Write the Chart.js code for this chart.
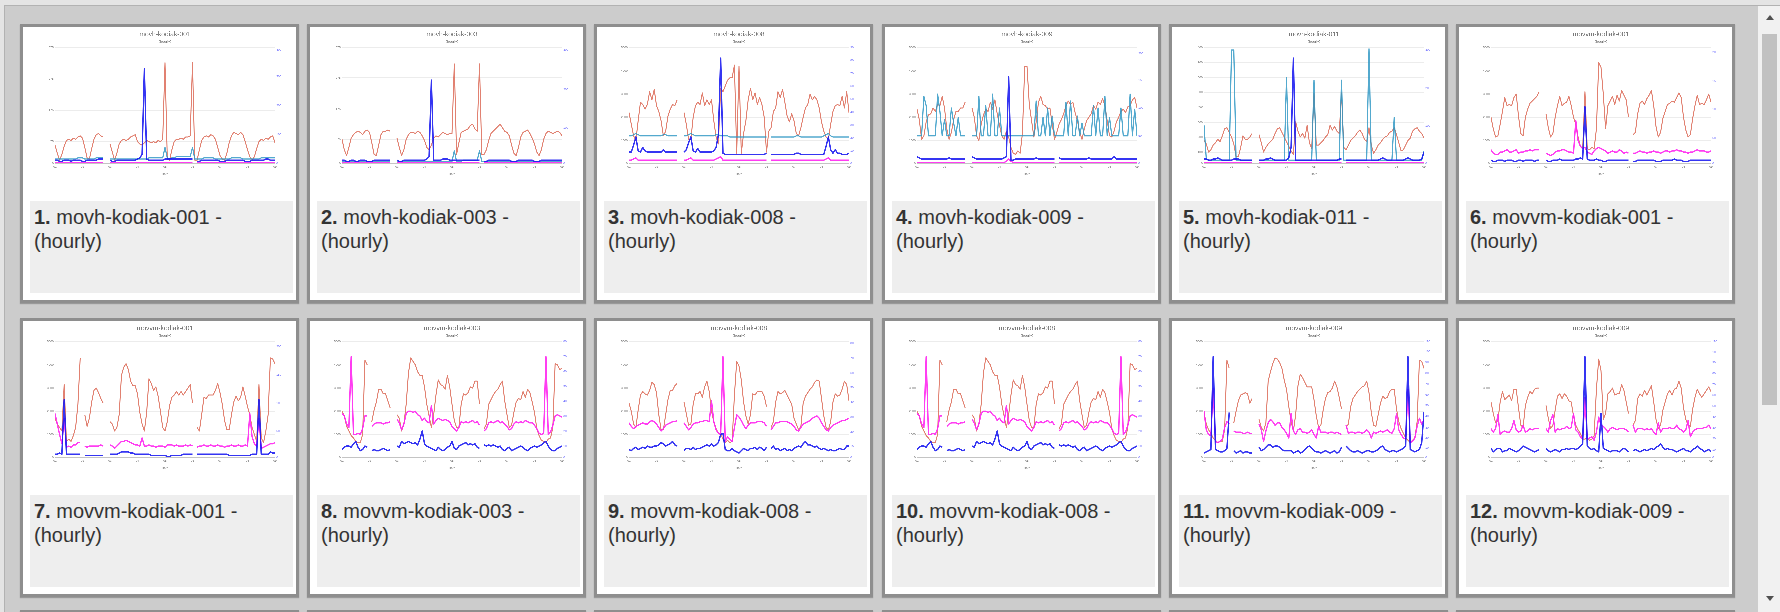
<!DOCTYPE html>
<html><head><meta charset="utf-8">
<script src="https://cdn.jsdelivr.net/npm/chart.js@4.4.1/dist/chart.umd.min.js"></script>
<style>
html,body{margin:0;padding:0;width:1780px;height:612px;overflow:hidden;background:#e4e4e4;font-family:"Liberation Sans",Arial,sans-serif;}
#frame{position:absolute;left:4px;top:5px;width:1776px;height:607px;background:#cccccc;border-left:1px solid #b2b2b2;border-top:1px solid #b2b2b2;box-sizing:border-box;}
.card{position:absolute;width:279px;height:279px;box-sizing:border-box;border:3px solid #8e8e8e;background:#fff;box-shadow:0 1px 1px rgba(0,0,0,.25);}
.card canvas{position:absolute;left:4px;top:0px;}
.cap{position:absolute;left:7px;top:174px;width:263px;height:92px;background:#eeeeee;box-sizing:border-box;padding:4px 0 0 4px;font-size:20px;line-height:24px;color:#333;white-space:nowrap;}
.cap b{font-weight:bold;}
#sb{position:absolute;left:1758px;top:6px;width:22px;height:606px;background:#f1f1f1;}
#thumb{position:absolute;left:1762px;top:34px;width:15px;height:371px;background:#c1c1c1;}
.arr{position:absolute;left:1766px;width:0;height:0;border-left:4px solid transparent;border-right:4px solid transparent;}
#up{top:15px;border-bottom:5px solid #505050;}
#dn{top:596px;border-top:5px solid #505050;}
</style></head><body>
<div id="frame"></div>
<div id="sb"></div><div id="thumb"></div><div id="up" class="arr"></div><div id="dn" class="arr"></div>
<script>
const _ = null;
const STEP_HOURS = 2;
const DAY_TICKS = [0,24,48,72,96,120,144,168,192];
const DAY_LABELS = ['01','02','03','04','05','06','07','08','09'];

// ---- 1. movh-kodiak-001 ----
const c1Red = [
16,9,3,8,15,20,21,20,22,21,23,24,
22,14,5,4,13,21,25,26,24,23,_,_,
17,10,3,9,17,20,21,20,21,23,24,25,
19,17,16,18,20,19,18,19,18,20,19,21,
87,4,3,12,19,21,21,22,21,23,23,24,
87,3,3,12,20,23,24,23,25,24,21,14,
7,4,3,9,18,24,27,26,25,27,25,19,
12,6,3,6,13,19,21,20,22,21,23,24,
18];
const c1Blue = [
3,3,2,2,3,3,3,2,3,3,3,3,
2,2,3,3,3,3,3,4,4,4,_,_,
3,2,2,3,3,3,3,3,3,3,3,3,
4,5,8,82,4,3,3,3,3,3,3,3,
4,4,4,4,4,4,4,4,4,4,4,4,
4,_,2,2,3,3,3,3,3,3,3,3,
2,2,2,3,3,3,3,3,3,3,3,2,
2,2,3,3,3,3,3,3,4,4,3,3,
3];
const c1Cyan = [
4,4,4,4,4,4,4,4,4,4,5,5,
5,4,4,4,4,4,5,5,5,5,_,_,
4,4,4,4,4,4,4,4,4,4,4,4,
4,4,4,4,4,5,5,5,5,5,5,5,
14,5,4,5,5,6,6,6,6,6,6,6,
14,4,4,4,4,5,5,5,5,5,4,4,
4,4,4,4,4,5,5,5,5,5,4,4,
4,4,4,4,4,4,5,5,5,5,5,5,
5];
const c1Mag = [
1,1,1,1,1,1,1,1,1,1,1,1,
1,1,1,1,1,1,1,1,1,1,_,_,
1,1,1,1,1,1,1,1,1,1,1,1,
1,1,1,1,1,1,1,1,1,1,1,1,
1,1,1,1,1,1,1,1,1,1,1,1,
1,_,1,1,1,1,1,1,1,1,1,1,
1,1,1,1,1,1,1,1,1,1,1,1,
1,1,1,1,1,1,1,1,1,1,1,1,
1];
const c1LeftTicks = [0,19,46,73,100], c1LeftLabels = ['0','75','175','275','375'];
const c1RightTicks = [0,25,50,75,98], c1RightLabels = ['0','100','200','300','400'];

// ---- 2. movh-kodiak-003 ----
const c2Red = [
21,12,7,14,22,25,27,28,27,25,28,29,
27,18,8,7,16,25,28,28,29,28,_,_,
22,14,7,12,21,25,27,27,26,28,27,24,
20,14,12,16,22,24,23,25,27,26,25,26,
26,86,8,18,27,28,29,30,33,34,30,28,
86,8,8,12,20,26,28,30,32,34,31,28,
27,24,16,9,7,14,23,27,28,29,26,22,
17,10,7,12,21,26,28,27,26,27,28,27,
24];
const c2Blue = [
3,3,2,2,3,3,2,2,3,3,3,2,
2,2,3,3,3,3,3,3,3,3,_,_,
3,2,2,3,3,3,3,3,3,3,3,3,
3,4,6,72,3,3,3,3,4,4,4,3,
3,3,3,3,3,3,3,3,3,3,3,3,
3,_,2,2,3,3,3,3,3,3,3,3,
3,3,2,2,2,3,3,3,3,3,3,3,
2,2,2,3,3,3,3,3,3,3,3,3,
3];
const c2Cyan = [
2,2,2,2,2,2,2,2,2,2,2,2,
2,2,2,2,2,2,2,2,2,2,_,_,
2,2,2,2,2,2,2,2,2,2,2,2,
2,2,2,2,2,2,2,2,2,2,2,2,
2,11,2,2,2,3,3,3,3,3,3,3,
11,2,2,2,2,2,2,2,2,2,2,2,
2,2,2,2,2,2,2,2,2,2,2,2,
2,2,2,2,2,2,2,2,2,2,2,2,
2];
const c2Mag = c1Mag.map(v => v);
const c2LeftTicks = [0,21,47,74,100], c2LeftLabels = ['0','75','175','275','375'];
const c2RightTicks = [0,31,64,98], c2RightLabels = ['0','100','200','300'];

// ---- 3. movh-kodiak-008 ----
const c3Red = [
44,34,24,20,37,53,51,47,51,62,55,64,
50,45,37,24,28,41,47,51,50,55,_,_,
44,34,21,21,40,50,53,51,61,50,55,51,
55,37,23,17,65,62,67,72,74,74,85,9,
84,9,26,37,55,65,55,61,51,57,51,40,
10,28,31,45,48,62,57,64,53,41,36,43,
37,26,24,31,40,48,51,60,55,58,55,48,
36,28,23,21,34,45,50,51,50,58,48,62,
44];
const c3Cyan = [
24,24,25,26,25,24,24,24,24,24,24,24,
24,24,24,25,25,24,24,24,24,24,_,_,
24,24,25,26,25,24,24,24,24,24,24,24,
24,24,25,25,24,24,24,24,23,23,23,23,
23,23,23,23,23,23,23,23,23,23,23,23,
23,_,23,23,23,23,23,23,23,23,23,23,
23,24,24,23,23,23,23,23,23,23,23,23,
23,24,25,26,24,23,23,23,23,23,23,23,
23];
const c3Blue = [
10,10,16,23,11,10,14,11,10,10,10,10,
10,10,10,12,10,10,10,10,10,10,_,_,
10,12,18,23,11,10,13,10,10,10,10,10,
10,11,14,25,91,9,8,8,8,8,8,8,
8,8,8,8,8,8,8,8,8,8,8,8,
9,_,8,8,8,8,8,8,8,8,8,8,
8,9,9,8,8,8,8,8,8,8,8,8,
8,8,15,23,12,9,12,9,9,8,8,8,
9];
const c3Mag = [
3,3,4,5,3,3,3,3,3,3,3,3,
3,3,3,3,3,3,3,3,3,3,_,_,
3,3,4,5,3,3,3,3,3,3,3,3,
3,3,4,5,6,3,3,3,3,3,3,3,
3,3,3,3,3,3,3,3,3,3,3,3,
3,_,3,3,3,3,3,3,3,3,3,3,
3,3,3,3,3,3,3,3,3,3,3,3,
3,3,4,5,3,3,3,3,3,3,3,3,
3];
const c3LeftTicks = [0,20,40,60,80,100], c3LeftLabels = ['0','1000','2000','3000','4000','5000'];
const c3RightTicks = [0,11.1,22.2,33.3,44.4,55.6,66.7,77.8,88.9,100], c3RightLabels = ['0','10','20','30','40','50','60','70','80','90'];

// ---- 4. movh-kodiak-009 ----
const c4Red = [
47,38,21,24,36,42,43,48,45,51,50,58,
48,30,21,27,38,45,45,48,48,53,_,_,
48,40,24,20,34,42,47,45,53,47,55,43,
33,24,21,28,23,14,9,8,11,9,26,84,
84,51,37,23,36,53,58,51,50,47,48,34,
21,27,34,38,43,50,54,51,53,44,37,27,
21,30,37,40,43,50,47,53,51,56,50,37,
24,23,28,36,40,45,47,44,49,50,55,57,
48];
const c4Cyan = [
24,24,24,58,50,24,24,24,24,60,45,24,
38,24,24,48,35,24,40,24,24,24,_,_,
24,24,24,58,24,24,50,24,24,60,24,24,
48,24,24,24,24,24,24,24,24,24,24,24,
24,24,24,24,54,24,24,40,24,48,24,41,
24,24,24,24,24,53,24,54,24,24,41,24,
35,24,24,24,24,50,24,48,24,24,58,24,
40,24,24,24,24,48,24,24,24,60,24,47,
24];
const c4Blue = [
6,5,4,4,4,4,4,4,4,4,4,4,
4,4,5,4,4,4,4,4,4,4,_,_,
6,5,4,4,4,4,4,4,4,4,4,4,
4,4,5,6,75,3,3,4,4,4,4,4,
4,4,4,4,5,4,4,4,4,4,4,4,
4,_,5,4,4,4,4,4,4,4,4,4,
4,4,4,5,4,4,4,4,4,4,4,4,
4,4,6,4,4,4,4,4,4,4,4,4,
4];
const c4Mag = [
1,1,1,1,1,1,1,1,1,1,1,1,
1,1,1,1,1,1,1,1,1,1,_,_,
1,1,1,1,1,1,1,1,1,1,1,1,
1,1,1,2,4,2,1,1,1,1,1,1,
1,1,1,1,1,1,1,1,1,1,1,1,
1,_,1,1,1,1,1,1,1,1,1,1,
1,1,1,1,1,1,1,1,1,1,1,1,
1,1,1,1,1,1,1,1,1,1,1,1,
1];
const c4LeftTicks = [0,20,40,60,80,100], c4LeftLabels = ['0','1000','2000','3000','4000','5000'];
const c4RightTicks = [0,24,48,72,95], c4RightLabels = ['0','50','100','150','200'];

// ---- 5. movh-kodiak-011 ----
const c5Red = [
20,17,10,12,16,18,21,19,24,30,31,27,
23,17,6,6,14,24,21,21,23,26,_,_,
25,18,10,14,17,19,21,26,30,31,27,23,
19,15,11,8,36,28,23,26,22,33,18,13,
61,16,16,18,20,23,25,33,29,32,28,26,
61,14,12,16,20,22,24,27,29,26,21,19,
31,16,9,12,16,18,21,23,24,27,28,31,
25,18,11,12,16,20,22,28,30,31,28,26,
22];
const c5Cyan = [
33,4,3,3,3,3,3,3,3,3,3,3,
98,98,3,3,3,3,3,3,3,3,_,_,
3,3,3,3,3,3,3,3,3,3,3,3,
74,3,3,3,3,3,3,3,3,3,3,3,
72,3,3,3,3,3,3,3,3,3,3,3,
72,3,3,3,3,3,3,3,3,3,3,3,
99,3,3,3,3,3,3,3,3,3,3,40,
3,3,3,3,3,3,3,3,3,3,3,3,
11];
const c5Blue = [
4,4,3,3,4,4,5,4,3,3,3,3,
3,4,4,4,3,3,3,3,3,3,_,_,
3,3,3,4,4,5,4,3,3,3,3,3,
3,5,14,91,3,3,3,3,3,3,3,3,
3,3,3,3,3,3,3,3,3,3,3,4,
4,_,3,3,3,3,3,3,3,3,3,3,
3,3,3,3,3,4,5,4,3,3,3,3,
3,3,3,3,4,5,4,3,3,3,3,4,
10];
const c5Mag = c1Mag.map(v => v);
const c5LeftTicks = [0,9.9,22.7,35.5,48.9,61.6,74.4,87.2,100], c5LeftLabels = ['0','100','200','300','400','500','600','700','800'];
const c5RightTicks = [0,32.7,65,98], c5RightLabels = ['0','100','200','300'];

// ---- 6. movvm-kodiak-001 ----
const c6Red = [
40,30,23,24,34,45,57,50,51,50,57,60,
41,26,24,40,47,52,54,56,58,62,_,_,
43,31,23,26,40,50,58,50,52,53,58,50,
40,34,23,15,13,62,13,12,14,13,30,87,
83,60,30,50,54,58,51,59,54,63,59,55,
40,_,25,27,43,52,54,51,56,59,63,50,
32,23,27,39,45,51,52,54,53,57,61,57,
40,29,23,25,39,50,59,51,52,51,55,60,
53];
const c6Mag = [
12,9,8,8,10,10,11,12,10,10,11,12,
9,10,10,11,11,12,11,12,12,12,_,_,
9,8,7,8,10,11,11,12,12,11,10,10,
9,37,20,15,13,14,10,9,8,11,13,14,
13,12,11,9,10,11,10,10,12,11,9,10,
9,_,9,9,10,11,10,10,9,10,10,11,
10,10,9,10,11,11,10,11,11,12,11,11,
10,10,9,10,10,11,12,11,11,11,10,10,
11];
const c6Blue = [
3,2,2,3,3,3,2,3,3,3,2,2,
3,3,2,3,3,3,3,2,3,3,_,_,
3,2,2,3,3,3,4,3,3,3,3,3,
3,4,4,5,4,49,4,3,3,3,4,3,
3,2,2,3,3,3,3,3,3,3,3,3,
3,_,2,2,3,3,3,3,3,3,3,3,
2,2,2,3,3,3,3,3,4,3,3,3,
2,2,2,3,3,3,3,3,3,3,3,3,
3];
const c6LeftTicks = [0,20,40,60,80,100], c6LeftLabels = ['0','1000','2000','3000','4000','5000'];
const c6RightTicks = [0,22,47,71,96], c6RightLabels = ['0','50','100','150','200'];

// ---- 7. movvm-kodiak-001 ----
const c7Red = [
34,29,26,23,63,14,16,14,19,26,46,86,
_,37,27,34,48,58,60,56,51,47,_,_,
31,29,23,26,37,71,78,81,76,66,62,62,
55,39,29,23,39,68,64,58,61,53,40,26,
23,31,45,52,54,57,54,57,54,57,60,63,
47,_,26,23,37,52,51,54,54,54,58,64,
56,46,32,24,24,37,48,53,49,52,61,53,
44,37,26,20,14,63,17,13,23,37,86,85,
81];
const c7Mag = [
38,29,20,12,34,9,10,9,11,11,13,13,
_,10,9,10,10,10,10,10,11,10,_,_,
11,10,8,10,12,14,14,15,14,13,12,11,
11,10,17,10,10,11,10,10,9,10,10,10,
9,11,11,11,10,11,10,10,10,11,10,11,
10,_,9,10,10,11,10,10,11,10,10,11,
10,10,9,10,10,11,10,10,11,10,10,11,
10,38,18,12,10,34,8,9,10,11,12,12,
13];
const c7Blue = [
3,3,4,3,50,3,3,3,3,3,3,3,
_,2,2,2,2,2,2,2,2,2,_,_,
3,3,3,3,4,5,5,5,5,4,4,3,
3,3,3,3,3,3,2,2,2,2,2,2,
2,1,1,2,2,2,2,2,3,3,3,3,
3,_,3,3,3,3,3,3,3,3,3,3,
3,3,3,3,2,2,2,2,2,2,2,2,
2,2,3,3,3,50,3,3,3,3,5,4,
4];
const c7LeftTicks = [0,20,40,60,80,100], c7LeftLabels = ['0','1000','2000','3000','4000','5000'];
const c7RightTicks = [0,22.9,47.1,71.4,95.7], c7RightLabels = ['0','50','100','150','200'];

// ---- 8. movvm-kodiak-003 (also drawn in card 10) ----
const c8Red = [
40,36,27,23,19,17,14,13,13,20,84,80,
_,31,41,48,59,59,55,55,49,43,_,_,
37,34,23,29,46,73,86,83,80,74,71,71,
61,46,36,26,37,54,67,63,62,59,71,61,
46,32,26,26,46,55,54,56,61,60,66,66,
46,_,25,29,46,50,54,57,59,63,66,49,
37,26,28,39,48,51,50,57,52,59,56,48,
39,25,19,15,14,13,16,17,26,81,80,76,
77];
const c8Mag = [
38,36,29,26,87,20,20,21,20,25,36,36,
_,27,29,30,30,30,29,30,30,31,_,_,
33,30,24,29,38,40,40,39,40,37,36,32,
34,31,30,45,29,32,34,33,32,33,32,31,
27,25,23,26,31,30,31,30,31,32,30,31,
28,_,23,25,30,31,30,31,32,30,31,29,
27,24,25,29,31,30,31,30,32,31,30,30,
28,25,21,20,21,87,20,22,28,36,37,36,
35];
const c8Blue = [
7,9,10,10,9,12,14,9,6,7,10,9,
_,6,7,6,6,7,8,7,6,7,_,_,
10,9,14,12,13,14,13,12,13,11,16,23,
12,10,9,8,7,6,9,7,6,7,9,10,
14,8,7,10,11,12,13,11,12,11,12,9,
8,_,11,10,11,10,11,10,9,10,7,6,
8,9,6,7,8,9,10,9,7,6,8,9,
10,9,10,11,13,14,10,7,6,6,8,9,
10];
const c8LeftTicks = [0,20,40,60,80,100], c8LeftLabels = ['0','1000','2000','3000','4000','5000'];
const c8RightTicks = [0,10,22.9,35.7,48.6,61.4,74.3,87.1,100], c8RightLabels = ['0','10','20','30','40','50','60','70','80'];

// ---- 9. movvm-kodiak-008 ----
const c9Red = [
47,40,29,26,41,54,57,55,54,58,65,63,
56,37,24,24,37,50,58,58,62,64,_,_,
48,38,28,29,46,55,55,57,52,61,66,57,
40,31,25,21,21,16,13,15,13,14,54,83,
79,67,48,36,29,37,55,54,57,57,57,53,
44,_,26,31,48,57,55,56,58,54,50,46,
34,29,24,27,47,53,56,59,61,65,67,66,
51,36,26,24,31,48,55,53,54,59,66,63,
49];
const c9Mag = [
30,27,25,27,28,29,30,29,29,31,32,31,
29,26,23,25,28,29,30,31,31,32,_,_,
30,27,24,26,29,30,30,31,31,32,32,31,
49,31,24,21,20,87,14,18,16,14,26,37,
35,32,28,25,28,30,30,30,31,31,31,30,
27,_,24,27,30,30,31,31,31,31,30,29,
27,24,23,26,29,30,31,32,34,35,36,34,
30,27,24,23,26,28,29,30,31,32,32,33,
34];
const c9Blue = [
7,6,8,9,7,8,9,8,10,9,9,10,
10,11,13,12,10,11,12,14,11,10,_,_,
6,8,8,7,9,7,8,8,9,10,11,10,
12,10,11,13,20,21,7,6,6,8,6,5,
4,6,8,7,6,8,8,9,7,9,8,6,
9,_,8,10,7,8,6,7,8,6,7,6,
8,9,10,9,12,14,11,11,10,9,10,8,
7,8,7,6,7,6,6,7,8,7,7,10,
10];
const c9LeftTicks = [0,20,40,60,80,100], c9LeftLabels = ['0','1000','2000','3000','4000','5000'];
const c9RightTicks = [0,9.7,22.3,34.9,48,60.6,72.9,85.7,98.6], c9RightLabels = ['0','10','20','30','40','50','60','70','80'];

// ---- 11. movvm-kodiak-009 ----
const c11Red = [
39,29,24,21,17,15,13,14,14,24,84,77,
_,30,40,49,54,55,56,55,47,51,_,_,
33,26,23,30,66,74,81,86,85,82,77,67,
59,44,31,23,37,62,72,69,65,61,61,61,
50,36,26,28,41,51,56,57,60,66,61,52,
42,_,26,29,44,51,54,57,59,61,62,66,
56,39,28,27,37,47,53,51,52,57,59,59,
42,31,25,21,17,15,13,15,17,31,84,83,
77];
const c11Mag = [
40,24,20,19,60,14,13,14,16,26,31,29,
_,23,22,22,22,21,21,22,21,21,_,_,
29,24,14,23,30,33,31,28,30,30,26,24,
21,17,38,23,20,24,25,22,22,21,22,24,
20,17,27,22,22,22,21,22,22,21,22,21,
20,_,28,21,22,22,21,22,22,21,22,24,
22,17,22,21,22,23,22,23,24,22,21,25,
38,24,20,17,16,59,13,14,17,27,34,29,
33];
const c11Blue = [
4,5,6,7,87,7,6,5,5,6,8,39,
_,6,4,5,6,4,5,5,4,4,_,_,
9,6,7,9,11,11,9,10,10,9,7,6,
6,6,6,4,5,6,4,5,7,9,10,8,
6,5,5,4,5,6,5,4,5,6,4,5,
9,_,10,8,6,5,5,6,5,4,5,6,
6,5,5,6,7,9,10,7,6,5,6,6,
5,6,7,8,10,87,7,6,5,6,7,13,
39];
const c11LeftTicks = [0,20,40,60,80,100], c11LeftLabels = ['0','1000','2000','3000','4000','5000'];
const c11RightTicks = [0,8.6,17.1,25.7,35.7,44.9,54.3,63.4,72.9,82.3,91.4,100], c11RightLabels = ['0','10','20','30','40','50','60','70','80','90','100','110'];

// ---- 12. movvm-kodiak-009 ----
const c12Red = [
48,38,30,32,48,57,50,52,54,49,59,59,
43,28,26,45,52,57,55,59,60,60,_,_,
45,34,25,28,41,53,55,51,55,53,49,48,
36,28,24,21,16,16,17,15,16,19,59,85,
75,33,38,55,57,60,54,55,55,63,58,48,
38,_,28,32,51,55,53,58,54,58,62,48,
33,25,28,41,48,55,58,54,59,60,66,60,
43,33,28,27,42,52,59,55,52,55,58,61,
57];
const c12Mag = [
25,22,25,37,20,22,23,22,22,25,32,24,
22,23,28,22,23,25,24,25,25,25,_,_,
25,22,32,37,22,25,24,25,25,27,25,26,
38,24,22,18,16,52,16,17,18,15,22,35,
28,27,25,22,25,26,25,24,25,25,25,24,
22,_,28,22,25,25,25,24,25,24,25,22,
20,30,22,25,25,25,26,25,25,28,25,24,
22,24,32,18,22,24,25,25,25,26,26,28,
25];
const c12Blue = [
8,5,7,8,8,5,6,6,8,7,6,5,
6,8,10,9,8,7,6,5,6,7,_,_,
8,6,5,6,7,6,5,7,7,8,7,8,
8,7,8,10,12,87,10,8,7,8,6,5,
38,8,7,6,5,6,6,6,5,7,8,7,
5,_,6,7,6,5,6,7,6,7,8,7,
9,10,12,9,7,8,7,7,6,5,6,7,
8,6,6,5,7,8,10,8,7,5,6,7,
5];
const c12LeftTicks = [0,20,40,60,80,100], c12LeftLabels = ['0','1000','2000','3000','4000','5000'];
const c12RightTicks = [0,6.7,16.4,25.8,35.1,44.5,53.8,63.2,72.6,82,91,100], c12RightLabels = ['0','10','20','30','40','50','60','70','80','90','100','110'];

// card table built from the arrays above
const CARDS = [
 {n:1, name:'movh-kodiak-001', red:c1Red, cyan:c1Cyan, mag:c1Mag, blue:c1Blue, lt:c1LeftTicks, ll:c1LeftLabels, rt:c1RightTicks, rl:c1RightLabels},
 {n:2, name:'movh-kodiak-003', red:c2Red, cyan:c2Cyan, mag:c2Mag, blue:c2Blue, lt:c2LeftTicks, ll:c2LeftLabels, rt:c2RightTicks, rl:c2RightLabels},
 {n:3, name:'movh-kodiak-008', red:c3Red, cyan:c3Cyan, mag:c3Mag, blue:c3Blue, lt:c3LeftTicks, ll:c3LeftLabels, rt:c3RightTicks, rl:c3RightLabels},
 {n:4, name:'movh-kodiak-009', red:c4Red, cyan:c4Cyan, mag:c4Mag, blue:c4Blue, lt:c4LeftTicks, ll:c4LeftLabels, rt:c4RightTicks, rl:c4RightLabels},
 {n:5, name:'movh-kodiak-011', red:c5Red, cyan:c5Cyan, mag:c5Mag, blue:c5Blue, lt:c5LeftTicks, ll:c5LeftLabels, rt:c5RightTicks, rl:c5RightLabels},
 {n:6, name:'movvm-kodiak-001', red:c6Red, cyan:null, mag:c6Mag, blue:c6Blue, lt:c6LeftTicks, ll:c6LeftLabels, rt:c6RightTicks, rl:c6RightLabels},
 {n:7, name:'movvm-kodiak-001', red:c7Red, cyan:null, mag:c7Mag, blue:c7Blue, lt:c7LeftTicks, ll:c7LeftLabels, rt:c7RightTicks, rl:c7RightLabels},
 {n:8, name:'movvm-kodiak-003', red:c8Red, cyan:null, mag:c8Mag, blue:c8Blue, lt:c8LeftTicks, ll:c8LeftLabels, rt:c8RightTicks, rl:c8RightLabels},
 {n:9, name:'movvm-kodiak-008', red:c9Red, cyan:null, mag:c9Mag, blue:c9Blue, lt:c9LeftTicks, ll:c9LeftLabels, rt:c9RightTicks, rl:c9RightLabels},
 {n:10, name:'movvm-kodiak-008', red:c8Red, cyan:null, mag:c8Mag, blue:c8Blue, lt:c8LeftTicks, ll:c8LeftLabels, rt:c8RightTicks, rl:c8RightLabels},
 {n:11, name:'movvm-kodiak-009', red:c11Red, cyan:null, mag:c11Mag, blue:c11Blue, lt:c11LeftTicks, ll:c11LeftLabels, rt:c11RightTicks, rl:c11RightLabels},
 {n:12, name:'movvm-kodiak-009', red:c12Red, cyan:null, mag:c12Mag, blue:c12Blue, lt:c12LeftTicks, ll:c12LeftLabels, rt:c12RightTicks, rl:c12RightLabels}
];

const COL_X = [20,307,594,882,1169,1456];
const ROW_Y = [24,318,610];
const SCALE = 3;
const CW = 269, CH = 150;

const RED = 'rgba(218,98,78,0.8)';
const CYAN = 'rgba(45,150,195,0.82)';
const BLUE = 'rgba(25,25,240,0.88)';
const MAG = 'rgba(255,40,240,0.9)';
const TXT = '#7a7a7a';
const FONT = 'Liberation Sans';

function pts(arr) { return arr.map((v, i) => ({x: i * STEP_HOURS, y: v})); }

function makeCard(col, row, card) {
  const div = document.createElement('div');
  div.className = 'card';
  div.style.left = COL_X[col] + 'px';
  div.style.top = ROW_Y[row] + 'px';
  document.body.appendChild(div);
  if (!card) return;
  const cv = document.createElement('canvas');
  cv.width = CW * SCALE; cv.height = CH * SCALE;
  cv.style.width = CW + 'px'; cv.style.height = CH + 'px';
  div.appendChild(cv);
  const cap = document.createElement('div');
  cap.className = 'cap';
  cap.innerHTML = '<b>' + card.n + '.</b> ' + card.name + ' -<br>(hourly)';
  div.appendChild(cap);

  const ds = [];
  ds.push({label:'blue', data:pts(card.blue), yAxisID:'y1', borderColor:BLUE, borderWidth:4.2});
  ds.push({label:'magenta', data:pts(card.mag), yAxisID:'y', borderColor:MAG, borderWidth:4});
  if (card.cyan) ds.push({label:'cyan', data:pts(card.cyan), yAxisID:'y', borderColor:CYAN, borderWidth:3.5});
  ds.push({label:'red', data:pts(card.red), yAxisID:'y', borderColor:RED, borderWidth:3});

  new Chart(cv, {
    type: 'line',
    data: {datasets: ds},
    options: {
      responsive: false, animation: false, devicePixelRatio: 1,
      layout: {padding: {left: 21, right: 0, top: 0, bottom: 0}},
      elements: {point: {radius: 0}, line: {tension: 0, fill: false, borderJoinStyle: 'round'}},
      spanGaps: false,
      plugins: {
        legend: {display: false}, tooltip: {enabled: false},
        title: {display: true, text: card.name, color: TXT, font: {family: FONT, size: 20, weight: 'normal'}, padding: {top: 10, bottom: 0}},
        subtitle: {display: true, text: '(hourly)', color: TXT, font: {family: FONT, size: 11}, padding: {top: 3.4, bottom: 11.4}}
      },
      scales: {
        x: {
          type: 'linear', min: 0, max: 192,
          afterBuildTicks: s => { s.ticks = DAY_TICKS.map(v => ({value: v})); },
          ticks: {font: {family: FONT, size: 9}, color: TXT, padding: 4, maxRotation: 0, autoSkip: false,
                  callback: (v, i) => DAY_LABELS[i]},
          grid: {display: false, drawTicks: false},
          border: {display: true, color: '#c4c4c4', width: 2},
          title: {display: true, text: 'Date', color: TXT, font: {family: FONT, size: 9}, padding: {top: 7, bottom: 3.4}}
        },
        y: {
          position: 'left', min: 0, max: 100,
          afterBuildTicks: s => { s.ticks = card.lt.map(v => ({value: v})); },
          afterFit: s => { s.width = 63; },
          ticks: {font: {family: FONT, size: 9}, color: TXT, padding: 4, callback: (v, i) => card.ll[i]},
          grid: {color: '#ececec', lineWidth: 2, drawTicks: false},
          border: {display: true, color: '#c4c4c4', width: 2}
        },
        y1: {
          position: 'right', min: 0, max: 100,
          afterBuildTicks: s => { s.ticks = card.rt.map(v => ({value: v})); },
          afterFit: s => { s.width = 63; },
          ticks: {font: {family: FONT, size: 9}, color: 'rgba(60,60,255,0.75)', padding: 4, callback: (v, i) => card.rl[i]},
          grid: {drawOnChartArea: false, drawTicks: false},
          border: {display: true, color: 'rgba(60,60,255,0.55)', width: 2}
        }
      }
    }
  });
}

for (let r = 0; r < 3; r++) {
  for (let c = 0; c < 6; c++) {
    const idx = r * 6 + c;
    makeCard(c, r, idx < CARDS.length ? CARDS[idx] : null);
  }
}
</script>
</body></html>
